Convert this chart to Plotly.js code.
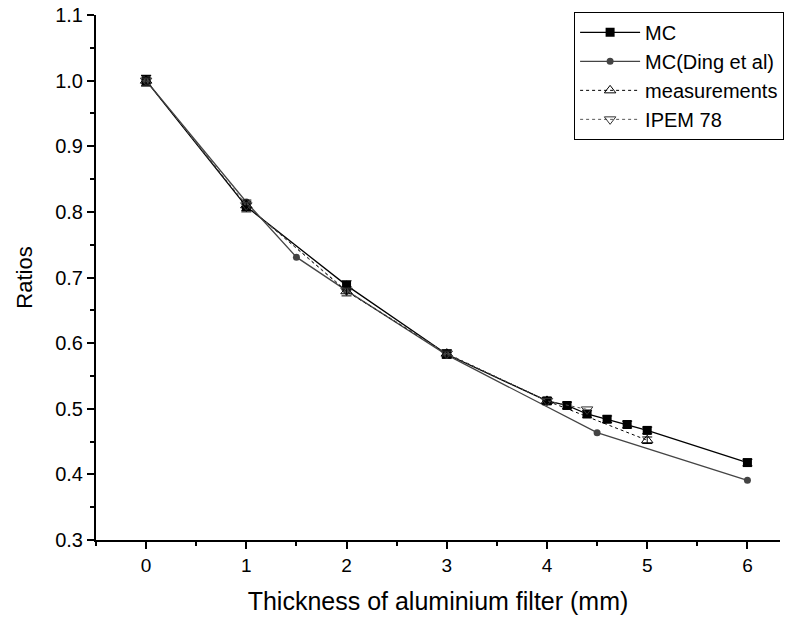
<!DOCTYPE html>
<html>
<head>
<meta charset="utf-8">
<script src="https://cdn.plot.ly/plotly-3.0.1.min.js"></script>
<style>html,body{margin:0;padding:0;background:#fff;}#chart{width:794px;height:622px;}</style>
</head>
<body>
<div id="chart"></div>
<script>
// Data
const mcX = [0, 1, 2, 3, 4, 4.2, 4.4, 4.6, 4.8, 5, 6];
const mcY = [1.0, 0.808, 0.688, 0.583, 0.512, 0.505, 0.492, 0.484, 0.476, 0.467, 0.418];
const mcErr = [0.008, 0.008, 0.007, 0.006, 0.005, 0.005, 0.005, 0.005, 0.005, 0.005, 0.005];

const dingX = [0, 1, 1.5, 2, 3, 4.5, 6];
const dingY = [1.0, 0.815, 0.731, 0.68, 0.582, 0.4635, 0.391];

const measX = [0, 1, 2, 3, 4, 5];
const measY = [1.0, 0.81, 0.679, 0.584, 0.512, 0.452];
const measErr = [0.008, 0.008, 0.007, 0.006, 0.005, 0.005];

const ipemX = [0, 1, 2, 3, 4, 4.4];
const ipemY = [1.0, 0.81, 0.68, 0.584, 0.512, 0.499];

const xTicks = [0, 1, 2, 3, 4, 5, 6];
const yTicks = [0.3, 0.4, 0.5, 0.6, 0.7, 0.8, 0.9, 1.0, 1.1];

const FONT = 'Liberation Sans, Arial, sans-serif';

const traces = [
  {
    x: mcX, y: mcY, name: 'MC', type: 'scatter', mode: 'lines+markers',
    line: {color: '#000', width: 1.3},
    marker: {symbol: 'square', size: 9, color: '#000'},
    error_y: {type: 'data', array: mcErr, visible: true, color: '#000', thickness: 1, width: 5}
  },
  {
    x: dingX, y: dingY, name: 'MC(Ding et al)', type: 'scatter', mode: 'lines+markers',
    line: {color: '#444', width: 1.3},
    marker: {symbol: 'circle', size: 7, color: '#444'}
  },
  {
    x: measX, y: measY, name: 'measurements', type: 'scatter', mode: 'lines+markers',
    line: {color: '#000', width: 1, dash: 'dot'},
    marker: {symbol: 'triangle-up-open', size: 10, color: '#000', line: {width: 1}},
    error_y: {type: 'data', array: measErr, visible: true, color: '#000', thickness: 1, width: 5}
  },
  {
    x: ipemX, y: ipemY, name: 'IPEM 78', type: 'scatter', mode: 'lines+markers',
    line: {color: '#555', width: 1, dash: 'dot'},
    marker: {symbol: 'triangle-down-open', size: 10, color: '#333', line: {width: 1}}
  }
];

const layout = {
  width: 794, height: 622,
  margin: {l: 96, r: 10, t: 15, b: 82},
  paper_bgcolor: '#fff', plot_bgcolor: '#fff',
  font: {family: FONT, size: 16, color: '#000'},
  showlegend: true,
  legend: {
    x: 1.006, xanchor: 'right', y: 1.006, yanchor: 'top',
    bordercolor: '#000', borderwidth: 1, bgcolor: '#fff',
    font: {family: FONT, size: 20, color: '#000'},
    tracegroupgap: 0, itemwidth: 60
  },
  xaxis: {
    range: [-0.5, 6.325], tickvals: xTicks, ticktext: xTicks.map(String),
    showgrid: false, zeroline: false, showline: true, linecolor: '#000', linewidth: 2,
    ticks: 'outside', ticklen: 7, tickwidth: 2, tickcolor: '#000',
    minor: {ticks: 'outside', dtick: 0.5, tick0: 0, ticklen: 4, tickwidth: 2, tickcolor: '#000', showgrid: false},
    tickfont: {family: FONT, size: 19},
    title: {text: 'Thickness of aluminium filter (mm)', font: {family: FONT, size: 25}, standoff: 18}
  },
  yaxis: {
    range: [0.3, 1.1], tickvals: yTicks, ticktext: yTicks.map(v => v.toFixed(1)),
    showgrid: false, zeroline: false, showline: true, linecolor: '#000', linewidth: 2,
    ticks: 'outside', ticklen: 7, tickwidth: 2, tickcolor: '#000',
    minor: {ticks: 'outside', dtick: 0.05, tick0: 0.3, ticklen: 4, tickwidth: 2, tickcolor: '#000', showgrid: false},
    tickfont: {family: FONT, size: 20},
    title: {text: 'Ratios', font: {family: FONT, size: 22}, standoff: 16}
  }
};

Plotly.newPlot('chart', traces, layout, {displayModeBar: false, staticPlot: true});
</script>
</body>
</html>
